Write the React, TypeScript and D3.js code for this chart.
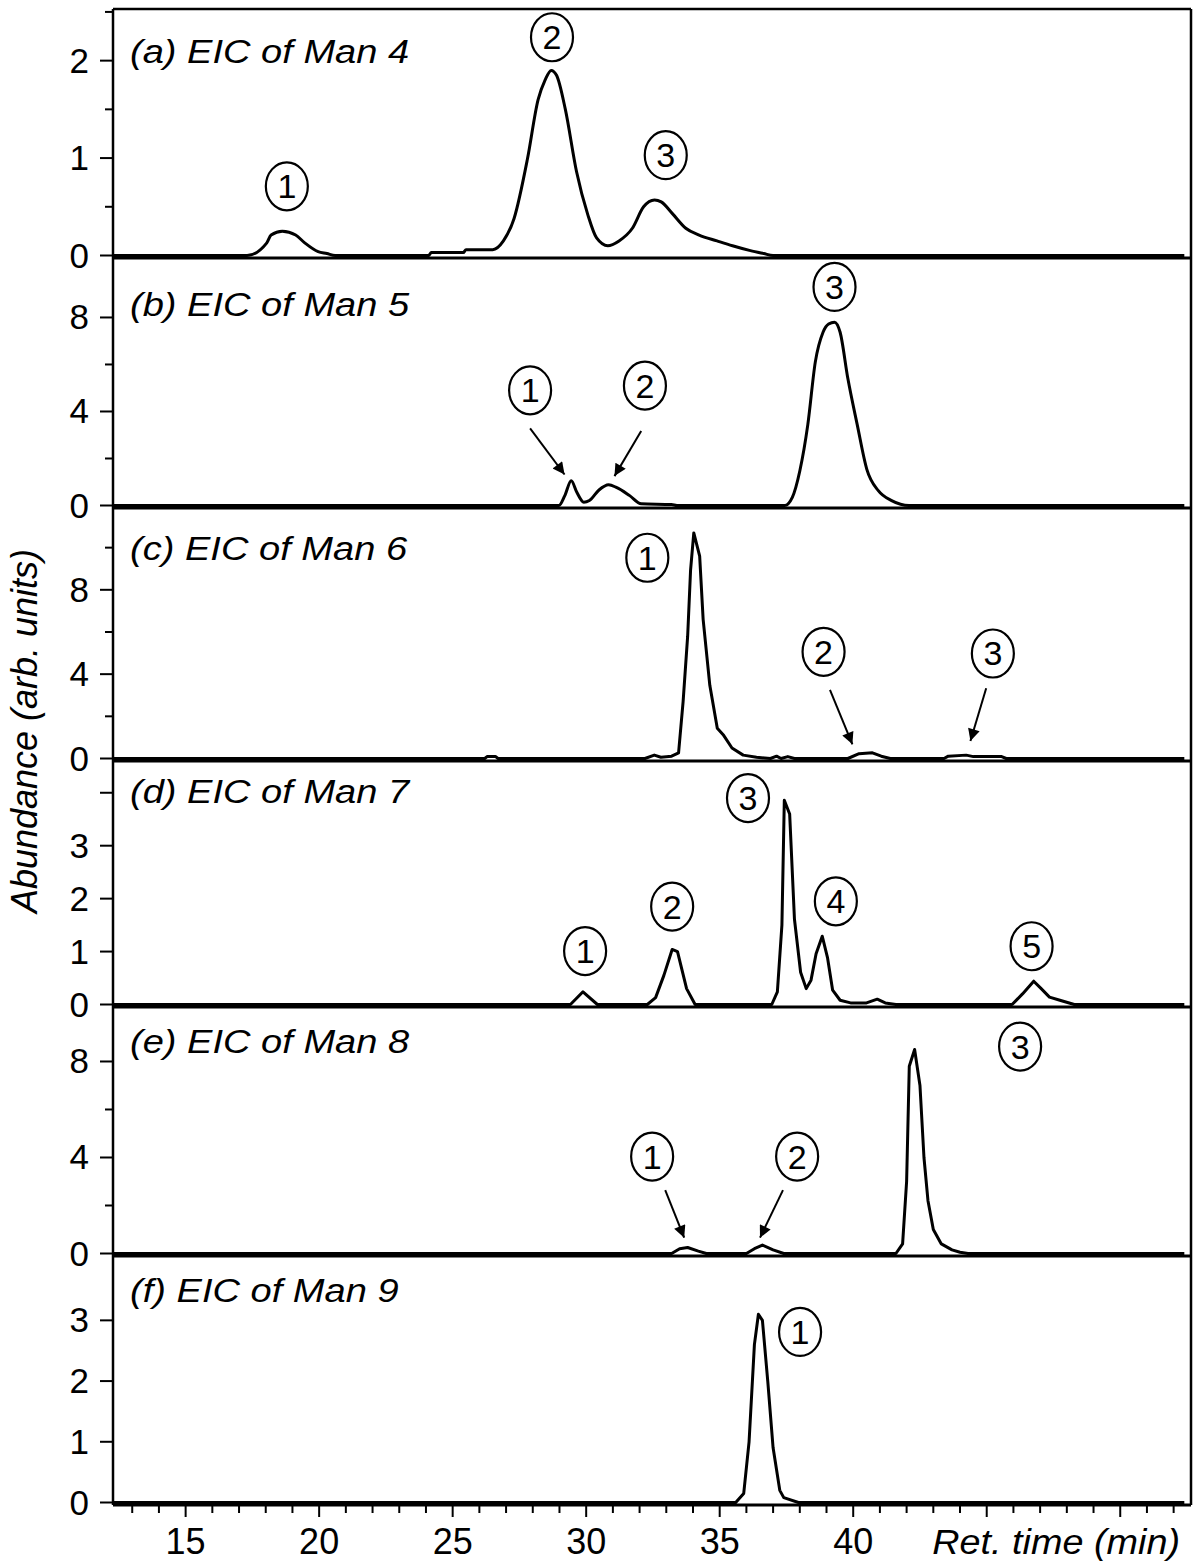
import React from "react";
import { scaleLinear, line, curveMonotoneX, curveLinear, range } from "d3";

// retention time (min) / abundance pairs
const timeA = [12.3, 17.3, 18.04, 18.2, 18.62, 19.12, 19.46, 19.96, 20.29, 20.6, 24.1, 24.2, 25.4, 25.5, 26.5, 26.9, 27.3, 27.8, 28.2, 28.46, 28.69, 28.89, 29.22, 29.64, 30.06, 30.39, 30.81, 31.23, 31.73, 32.15, 32.56, 32.81, 33.23, 33.73, 34.23, 34.9, 35.48, 36.15, 36.65, 37.0, 52.4];
const abundA = [0, 0, 0.13, 0.21, 0.25, 0.21, 0.13, 0.04, 0.02, 0, 0, 0.03, 0.03, 0.06, 0.06, 0.15, 0.38, 0.99, 1.6, 1.8, 1.9, 1.85, 1.5, 0.86, 0.42, 0.18, 0.1, 0.15, 0.28, 0.5, 0.57, 0.55, 0.43, 0.28, 0.21, 0.15, 0.1, 0.05, 0.02, 0, 0];

const timeB = [12.3, 28.98, 29.2, 29.44, 29.65, 29.91, 30.12, 30.48, 30.84, 31.13, 31.63, 32.06, 33.2, 33.4, 37.43, 37.72, 38.0, 38.3, 38.58, 38.87, 39.08, 39.3, 39.51, 39.8, 40.15, 40.51, 40.94, 41.44, 42.09, 52.4];
const abundB = [0, 0, 0.42, 1.05, 0.56, 0.14, 0.21, 0.66, 0.88, 0.77, 0.42, 0.07, 0.04, 0, 0, 0.35, 1.47, 3.44, 6.1, 7.37, 7.72, 7.8, 7.37, 5.4, 3.44, 1.54, 0.63, 0.21, 0, 0];

const timeC = [12.3, 26.2, 26.3, 26.6, 26.7, 32.2, 32.55, 32.8, 33.2, 33.46, 33.63, 33.8, 33.91, 34.03, 34.25, 34.38, 34.63, 34.91, 35.13, 35.46, 35.88, 36.38, 36.9, 37.13, 37.3, 37.55, 37.8, 39.8, 40.22, 40.72, 41.05, 41.39, 43.4, 43.56, 44.23, 44.5, 45.56, 45.73, 52.4];
const abundC = [0, 0, 0.1, 0.1, 0, 0, 0.16, 0.06, 0.11, 0.27, 2.7, 5.8, 8.95, 10.7, 9.6, 6.6, 3.47, 1.44, 1.13, 0.5, 0.16, 0.06, 0, 0.11, 0, 0.09, 0, 0, 0.23, 0.27, 0.11, 0, 0, 0.11, 0.16, 0.09, 0.09, 0, 0];

const timeD = [12.3, 29.41, 29.88, 30.42, 32.29, 32.6, 32.91, 33.22, 33.42, 33.76, 34.08, 36.95, 37.16, 37.33, 37.42, 37.62, 37.8, 38.03, 38.24, 38.42, 38.61, 38.84, 39.04, 39.23, 39.51, 39.9, 40.5, 40.9, 41.2, 41.6, 45.95, 46.34, 46.76, 47.04, 47.35, 47.74, 48.28, 52.4];
const abundD = [0, 0, 0.24, 0, 0, 0.13, 0.55, 1.04, 1.0, 0.3, 0, 0, 0.24, 1.5, 3.86, 3.6, 1.61, 0.61, 0.3, 0.46, 0.96, 1.29, 0.88, 0.27, 0.08, 0.03, 0.03, 0.1, 0.03, 0, 0, 0.2, 0.44, 0.3, 0.14, 0.08, 0, 0];

const timeE = [12.3, 33.2, 33.5, 33.8, 34.2, 34.5, 36.0, 36.3, 36.6, 37.0, 37.4, 41.6, 41.85, 42.0, 42.1, 42.3, 42.5, 42.65, 42.8, 43.0, 43.3, 43.7, 44.0, 44.3, 52.4];
const abundE = [0, 0, 0.2, 0.25, 0.1, 0, 0, 0.2, 0.35, 0.15, 0, 0, 0.4, 3, 7.8, 8.5, 7, 4, 2.2, 1.0, 0.4, 0.15, 0.05, 0, 0];

const timeF = [12.3, 35.6, 35.9, 36.1, 36.3, 36.45, 36.6, 36.8, 37.0, 37.25, 37.4, 37.95, 52.4];
const abundF = [0, 0, 0.15, 1.0, 2.6, 3.1, 3.0, 2.0, 0.9, 0.2, 0.08, 0, 0];

const panelTitles = ["(a) EIC of Man 4", "(b) EIC of Man 5", "(c) EIC of Man 6", "(d) EIC of Man 7", "(e) EIC of Man 8", "(f) EIC of Man 9"];
const yMax = [2.53, 10.53, 11.88, 4.6, 10.27, 4.06];
const yLabelled = [[0, 1, 2], [0, 4, 8], [0, 4, 8], [0, 1, 2, 3], [0, 4, 8], [0, 1, 2, 3]];
const yUnlabelled = [[0.5, 1.5, 2.5], [2, 6], [2, 6, 10], [4], [2, 6], []];

// circled peak numbers: [number, time, abundance]
const peaksA = [[1, 18.79, 0.71], [2, 28.72, 2.24], [3, 32.98, 1.03]];
const peaksB = [[1, 27.9, 4.9], [2, 32.2, 5.1], [3, 39.3, 9.3]];
const peaksC = [[1, 32.29, 9.52], [2, 38.89, 5.06], [3, 45.23, 4.98]];
const peaksD = [[1, 29.96, 1.01], [2, 33.22, 1.85], [3, 36.06, 3.9], [4, 39.35, 1.95], [5, 46.68, 1.1]];
const peaksE = [[1, 32.47, 4.04], [2, 37.9, 4.04], [3, 46.25, 8.62]];
const peaksF = [[1, 38.01, 2.81]];

// arrows: [t0, v0, t1, v1]
const arrowsB = [[27.9, 3.28, 29.19, 1.32], [32.06, 3.17, 31.06, 1.25]];
const arrowsC = [[39.13, 3.25, 39.97, 0.67], [44.98, 3.33, 44.39, 0.83]];
const arrowsE = [[32.96, 2.64, 33.67, 0.66], [37.37, 2.64, 36.51, 0.66]];

const xLabelled = [15, 20, 25, 30, 35, 40];

const series = [
  { t: timeA, v: abundA, peaks: peaksA, arrows: [] as number[][], smooth: true },
  { t: timeB, v: abundB, peaks: peaksB, arrows: arrowsB, smooth: true },
  { t: timeC, v: abundC, peaks: peaksC, arrows: arrowsC, smooth: false },
  { t: timeD, v: abundD, peaks: peaksD, arrows: [] as number[][], smooth: false },
  { t: timeE, v: abundE, peaks: peaksE, arrows: arrowsE, smooth: false },
  { t: timeF, v: abundF, peaks: peaksF, arrows: [] as number[][], smooth: false },
];

const W = 1200;
const H = 1568;
const left = 113;
const right = 1191;
const bounds = [9, 258, 508, 761, 1007, 1256, 1505];
const titleDy = [54, 58, 52, 42, 46, 46];
const FONT = "'Liberation Sans', Arial, sans-serif";

const x = scaleLinear().domain([12.28, 52.65]).range([left, right]);

export default function App() {
  return (
    <div style={{ position: "absolute", left: 0, top: 0 }}>
      <svg width={W} height={H} style={{ display: "block", background: "#fff" }}>
        <defs>
          <marker id="head" viewBox="0 0 10 10" refX="10" refY="5" markerWidth="7" markerHeight="6" markerUnits="strokeWidth" orient="auto">
            <path d="M0,0 L10,5 L0,10 z" fill="#000" />
          </marker>
        </defs>
        {series.map((s, i) => {
          const top = bounds[i];
          const bottom = bounds[i + 1];
          const y = scaleLinear().domain([0, yMax[i]]).range([bottom - 2.5, top]);
          const gen = line<number>()
            .x((d) => x(s.t[d]))
            .y((d) => y(s.v[d]))
            .curve(s.smooth ? curveMonotoneX : curveLinear);
          return (
            <g key={i}>
              {yLabelled[i].map((tv) => (
                <g key={"l" + tv}>
                  <line x1={left - 13} x2={left} y1={y(tv)} y2={y(tv)} stroke="#000" strokeWidth={2} />
                  <text x={left - 24} y={y(tv) + 12} textAnchor="end" fontSize={35} fontFamily={FONT}>{tv}</text>
                </g>
              ))}
              {yUnlabelled[i].map((tv) => (
                <line key={"u" + tv} x1={left - (i === 3 ? 13 : 8)} x2={left} y1={y(tv)} y2={y(tv)} stroke="#000" strokeWidth={2} />
              ))}
              <path d={gen(range(s.t.length)) || ""} fill="none" stroke="#000" strokeWidth={3} strokeLinejoin="round" />
              <line x1={left} x2={right} y1={bottom} y2={bottom} stroke="#000" strokeWidth={3} />
              <text x={130} y={top + titleDy[i]} fontSize={34} fontStyle="italic" fontFamily={FONT} transform={`translate(130,0) scale(1.12,1) translate(-130,0)`}>
                {panelTitles[i]}
              </text>
              {s.arrows.map((a, k) => (
                <line key={"a" + k} x1={x(a[0])} y1={y(a[1])} x2={x(a[2])} y2={y(a[3])} stroke="#000" strokeWidth={2} markerEnd="url(#head)" />
              ))}
              {s.peaks.map((p) => (
                <g key={"p" + p[0]} transform={`translate(${x(p[1])},${y(p[2])})`}>
                  <ellipse rx={21} ry={24} fill="#fff" stroke="#000" strokeWidth={2.2} />
                  <text y={12} textAnchor="middle" fontSize={34} fontFamily={FONT}>{p[0]}</text>
                </g>
              ))}
            </g>
          );
        })}
        {/* frame */}
        <line x1={left} x2={right} y1={bounds[0]} y2={bounds[0]} stroke="#000" strokeWidth={2.5} />
        <line x1={left} x2={left} y1={bounds[0]} y2={bounds[6]} stroke="#000" strokeWidth={2.5} />
        <line x1={right} x2={right} y1={bounds[0]} y2={bounds[6]} stroke="#000" strokeWidth={2.5} />
        {/* x axis */}
        {range(13, 53).map((t) => (
          <line key={t} x1={x(t)} x2={x(t)} y1={bounds[6]} y2={bounds[6] + (t % 5 === 0 ? 12 : 8)} stroke="#000" strokeWidth={2} />
        ))}
        {xLabelled.map((t) => (
          <text key={"x" + t} x={x(t)} y={1554} textAnchor="middle" fontSize={36} fontFamily={FONT}>{t}</text>
        ))}
        <text x={1180} y={1554} textAnchor="end" fontSize={35} fontStyle="italic" fontFamily={FONT} transform="translate(1180,0) scale(1.08,1) translate(-1180,0)">Ret. time (min)</text>
        <text transform="translate(37,731) rotate(-90)" textAnchor="middle" fontSize={36} fontStyle="italic" fontFamily={FONT}>Abundance (arb. units)</text>
      </svg>
    </div>
  );
}
